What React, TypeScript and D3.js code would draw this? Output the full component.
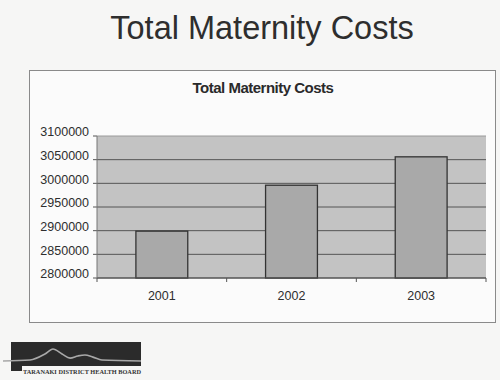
import React from "react";
import * as d3 from "d3";

const years = ["2001", "2002", "2003"];
const costs = [2899000, 2996000, 3056000];
const yTicks = [2800000, 2850000, 2900000, 2950000, 3000000, 3050000, 3100000];
const slideTitle = "Total Maternity Costs";
const chartTitle = "Total Maternity Costs";
const logoText = "TARANAKI DISTRICT HEALTH BOARD";
const logoWave: [number, number][] = [
  [0, 0.79], [0.196, 0.75], [0.304, 0.5], [0.362, 0.29], [0.428, 0.5], [0.486, 0.67],
  [0.543, 0.58], [0.594, 0.54], [0.652, 0.63], [0.717, 0.75], [1, 0.79],
];

export default function App() {
  const W = 500, H = 380;
  const plot = { left: 97, right: 486, top: 136, bottom: 278 };
  const x = d3.scaleBand<string>().domain(years).range([plot.left, plot.right]).paddingInner(0.6).paddingOuter(0.3);
  const xOuter = d3.scaleBand<string>().domain(years).range([plot.left, plot.right]);
  const y = d3.scaleLinear().domain([2800000, 3100000]).range([plot.bottom, plot.top]);
  const font = "'Liberation Sans', Arial, sans-serif";

  const logo = { x: 11, y: 342, w: 130, h: 24 };
  const wx = d3.scaleLinear().domain([0, 1]).range([3, logo.x + logo.w]);
  const wy = d3.scaleLinear().domain([0, 1]).range([logo.y, logo.y + logo.h]);
  const wave = d3.line<[number, number]>().x(d => wx(d[0])).y(d => wy(d[1])).curve(d3.curveMonotoneX)(logoWave) || "";

  const boundaries = [plot.left, ...years.map(yr => (xOuter(yr) as number) + xOuter.bandwidth())];

  return (
    <svg width={W} height={H} style={{ position: "absolute", left: 0, top: 0, display: "block" }}>
      <rect x={0} y={0} width={W} height={H} fill="#f6f6f5" />
      <text x={262} y={39} textAnchor="middle" fontFamily={font} fontSize={32.5} fill="#2e2e2e">{slideTitle}</text>

      <rect x={29.5} y={70.5} width={466} height={252} fill="#fbfbfb" stroke="#8a8a8a" strokeWidth={1} />
      <text x={263} y={93} textAnchor="middle" fontFamily={font} fontSize={15} fontWeight="bold" letterSpacing={-0.5} fill="#2a2a2a">{chartTitle}</text>

      <rect x={plot.left} y={plot.top} width={plot.right - plot.left} height={plot.bottom - plot.top} fill="#c3c3c3" />
      {yTicks.map(t => (
        <g key={t}>
          <line x1={plot.left} x2={plot.right} y1={y(t)} y2={y(t)} stroke={t === 3100000 ? "#9a9a9a" : "#555"} strokeWidth={1} />
          <line x1={plot.left - 4} x2={plot.left} y1={y(t)} y2={y(t)} stroke="#555" strokeWidth={1} />
          <text x={89} y={y(t) - 4} dy="0.35em" textAnchor="end" fontFamily={font} fontSize={12.5} fill="#2e2e2e">{t}</text>
        </g>
      ))}
      {years.map((yr, i) => (
        <rect key={yr} x={x(yr)} y={y(costs[i])} width={x.bandwidth()} height={plot.bottom - y(costs[i])}
          fill="#a9a9a9" stroke="#333" strokeWidth={1.3} />
      ))}
      <line x1={plot.left} x2={plot.right} y1={plot.bottom} y2={plot.bottom} stroke="#555" />
      <line x1={plot.left} x2={plot.left} y1={plot.top} y2={plot.bottom} stroke="#777" />
      {boundaries.map((b, i) => (
        <line key={i} x1={b} x2={b} y1={plot.bottom} y2={plot.bottom + 4} stroke="#555" />
      ))}
      {years.map(yr => (
        <text key={yr} x={(xOuter(yr) as number) + xOuter.bandwidth() / 2} y={300} textAnchor="middle" fontFamily={font} fontSize={12.5} fill="#2e2e2e">{yr}</text>
      ))}

      <rect x={logo.x} y={logo.y} width={logo.w} height={logo.h} fill="#2b2b2b" />
      <rect x={logo.x} y={logo.y + logo.h} width={11} height={5} fill="#2b2b2b" />
      <path d={wave} fill="none" stroke="#a8a8a8" strokeWidth={1.6} />
      <text x={23} y={374} fontFamily="'Liberation Serif', serif" fontSize={6.5} fontWeight="bold" textLength={118} lengthAdjust="spacingAndGlyphs" fill="#333">{logoText}</text>
    </svg>
  );
}
